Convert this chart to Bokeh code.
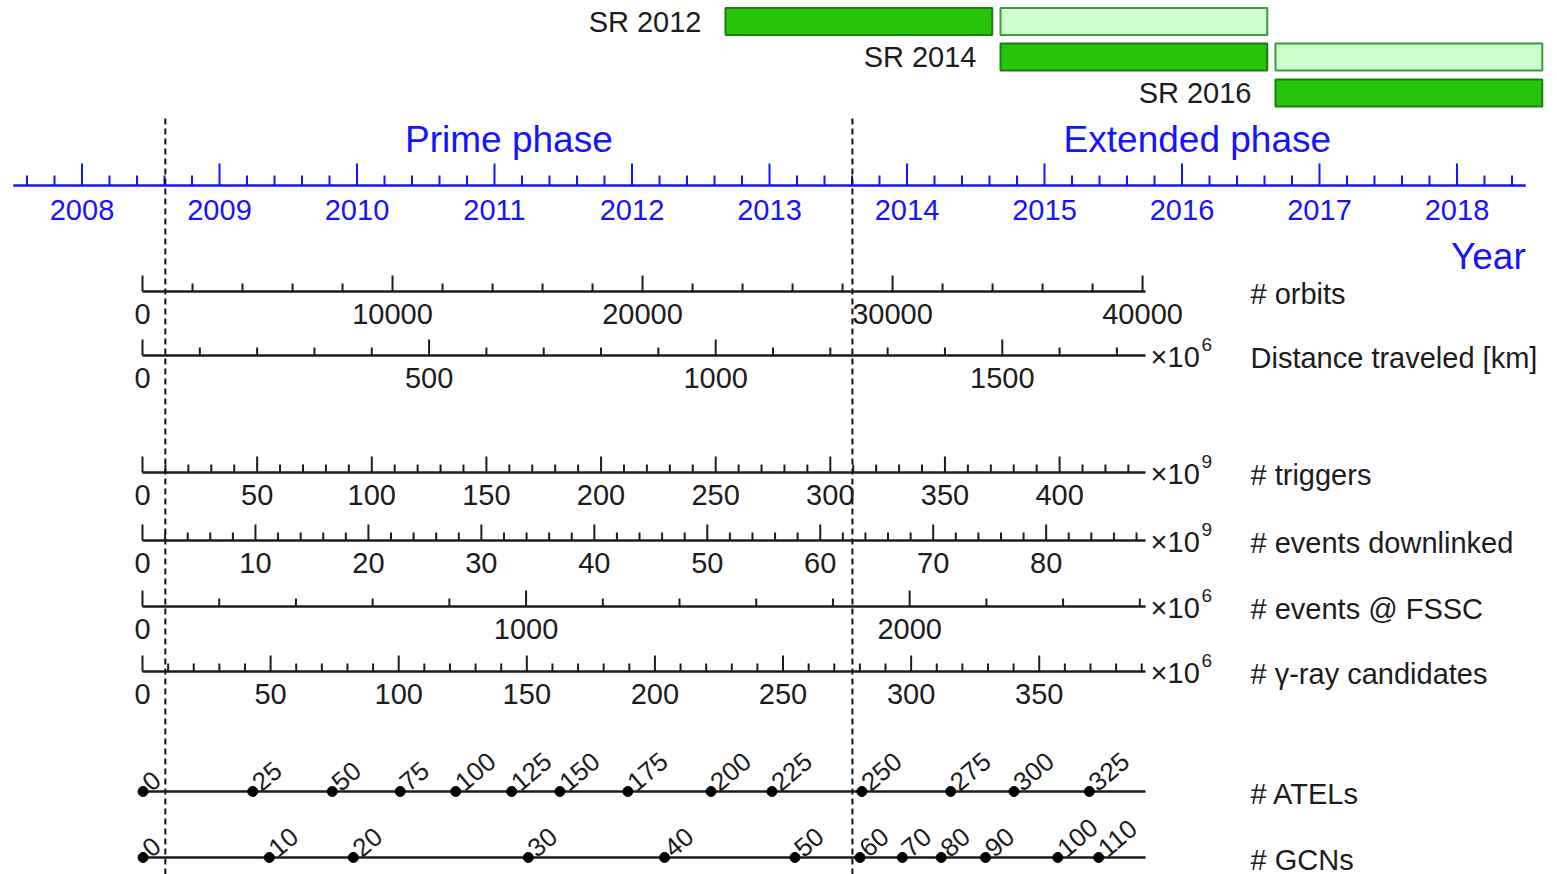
import numpy as np
from bokeh.plotting import figure
from bokeh.models import Range1d
from bokeh.embed import file_html
from bokeh.resources import INLINE
from bokeh.core.properties import value

# ---------------- data ----------------
years = [2008, 2009, 2010, 2011, 2012, 2013, 2014, 2015, 2016, 2017, 2018]
year_axis_range = [2007.5, 2018.5]
year_minor_step = 0.2

launch_date = 2008.44
science_start = 2008.606
extended_start = 2013.603
data_end = 2015.735

phase_names = ["Prime phase", "Extended phase"]

sr_labels = ["SR 2012", "SR 2014", "SR 2016"]
sr_start = [2012.68, 2014.68, 2016.68]
sr_end = [2014.62, 2016.62, 2018.62]
sr_ext_start = [2014.68, 2016.68]
sr_ext_end = [2016.62, 2018.62]

metric_names = ["# orbits", "Distance traveled [km]", "# triggers",
                "# events downlinked", "# events @ FSSC", "# \u03b3-ray candidates"]
metric_end_values = [40120, 1750, 437.5, 88.8, 2615, 391.5]
metric_major = [
    [0, 10000, 20000, 30000, 40000],
    [0, 500, 1000, 1500],
    [0, 50, 100, 150, 200, 250, 300, 350, 400],
    [0, 10, 20, 30, 40, 50, 60, 70, 80],
    [0, 1000, 2000],
    [0, 50, 100, 150, 200, 250, 300, 350],
]
metric_minor_step = [2000, 100, 10, 2, 200, 10]
metric_exponent = [None, "6", "9", "9", "6", "6"]

atel_counts = [0, 25, 50, 75, 100, 125, 150, 175, 200, 225, 250, 275, 300, 325]
atel_dates = [2008.444, 2009.242, 2009.820, 2010.314, 2010.718, 2011.125, 2011.476,
              2011.970, 2012.575, 2013.018, 2013.672, 2014.318, 2014.778, 2015.326]
gcn_counts = [0, 10, 20, 30, 40, 50, 60, 70, 80, 90, 100, 110]
gcn_dates = [2008.444, 2009.362, 2009.973, 2011.246, 2012.237, 2013.185, 2013.658,
             2013.966, 2014.249, 2014.571, 2015.097, 2015.394]

# ---------------- layout ----------------
W, H = 1557, 874
PX_PER_YEAR = 137.5
X2008 = 81.5


def yr(px):
    return 2008 + (px - X2008) / PX_PER_YEAR


BLUE = "#1414ff"
INK = "#1c1c1c"
FONT = value("Liberation Sans")

p = figure(width=W, height=H, x_range=Range1d(yr(0), yr(W)), y_range=Range1d(H, 0),
           output_backend="svg", toolbar_location=None, min_border=0,
           x_axis_type=None, y_axis_type=None)
p.xgrid.visible = False
p.ygrid.visible = False
p.outline_line_color = None
p.background_fill_color = "white"
p.border_fill_color = "white"

# ---- service review bars ----
row_y = [21, 56.5, 92.5]
bar_h = 27
p.quad(left=sr_start, right=sr_end,
       top=[y - bar_h / 2 for y in row_y], bottom=[y + bar_h / 2 for y in row_y],
       fill_color="#27c40b", line_color="#1c7d16", line_width=2)
p.quad(left=sr_ext_start, right=sr_ext_end,
       top=[y - bar_h / 2 for y in row_y[:2]], bottom=[y + bar_h / 2 for y in row_y[:2]],
       fill_color="#ccffcc", line_color="#3f9a3f", line_width=2)
p.text(x=sr_start, y=row_y, text=sr_labels, text_align="right", text_baseline="middle",
       x_offset=-24, text_font=FONT, text_font_size="29px", text_color=INK)

# ---- year axis ----
Y_AX = 185
p.segment(x0=[year_axis_range[0]], x1=[year_axis_range[1]], y0=[Y_AX], y1=[Y_AX],
          line_color=BLUE, line_width=2.5)
p.segment(x0=years, x1=years, y0=[Y_AX] * len(years), y1=[Y_AX - 22] * len(years),
          line_color=BLUE, line_width=2)
n_minor = int(round((year_axis_range[1] - year_axis_range[0]) / year_minor_step))
minor_years = [round(year_axis_range[0] + 0.1 + k * year_minor_step, 3) for k in range(n_minor)]
minor_years = [m for m in minor_years if abs(m - round(m)) > 1e-6]
p.segment(x0=minor_years, x1=minor_years, y0=[Y_AX] * len(minor_years),
          y1=[Y_AX - 10] * len(minor_years), line_color=BLUE, line_width=2)
p.text(x=years, y=[209] * len(years), text=[str(y) for y in years], text_align="center",
       text_baseline="middle", text_font=FONT, text_font_size="29px", text_color=BLUE)
p.text(x=[year_axis_range[1]], y=[256], text=["Year"], text_align="right",
       text_baseline="middle", text_font=FONT, text_font_size="37px", text_color=BLUE)
phase_x = [(science_start + extended_start) / 2, (extended_start + sr_end[-1]) / 2]
p.text(x=phase_x, y=[139, 139], text=phase_names, text_align="center",
       text_baseline="middle", text_font=FONT, text_font_size="37px", text_color=BLUE)

# ---- phase separators ----
p.segment(x0=[science_start, extended_start], x1=[science_start, extended_start],
          y0=[118, 118], y1=[H, H], line_color="#111111", line_width=2, line_dash="6 4")

# ---- metric axes ----
metric_y = [291, 355, 472, 540, 606, 671]
NAME_X = yr(1250)
span = data_end - launch_date
for i, name in enumerate(metric_names):
    ly = metric_y[i]
    endv = metric_end_values[i]

    def tx(v, endv=endv):
        return launch_date + v / endv * span

    p.segment(x0=[launch_date], x1=[data_end], y0=[ly], y1=[ly], line_color=INK, line_width=2.5)
    majors = metric_major[i]
    mx = [tx(v) for v in majors]
    p.segment(x0=mx, x1=mx, y0=[ly] * len(mx), y1=[ly - 16] * len(mx), line_color=INK, line_width=2)
    step = metric_minor_step[i]
    mins = [k * step for k in range(int(endv // step) + 1)]
    mins = [v for v in mins if v not in majors]
    nx = [tx(v) for v in mins]
    p.segment(x0=nx, x1=nx, y0=[ly] * len(nx), y1=[ly - 8] * len(nx), line_color=INK, line_width=2)
    p.text(x=mx, y=[ly + 22] * len(mx), text=[str(v) for v in majors], text_align="center",
           text_baseline="middle", text_font=FONT, text_font_size="29px", text_color=INK)
    if metric_exponent[i]:
        p.text(x=[data_end], y=[ly + 1], text=["\u00d710"], text_align="left",
               text_baseline="alphabetic", x_offset=5, text_font=FONT,
               text_font_size="29px", text_color=INK)
        p.text(x=[data_end], y=[ly - 11], text=[metric_exponent[i]], text_align="left",
               text_baseline="alphabetic", x_offset=56, text_font=FONT,
               text_font_size="19px", text_color=INK)
    p.text(x=[NAME_X], y=[ly + 2], text=[name], text_align="left", text_baseline="middle",
           text_font=FONT, text_font_size="29px", text_color=INK)

# ---- ATELs and GCNs ----
for ly, counts, dates, name in [(791, atel_counts, atel_dates, "# ATELs"),
                                (857, gcn_counts, gcn_dates, "# GCNs")]:
    p.segment(x0=[launch_date], x1=[data_end], y0=[ly], y1=[ly], line_color=INK, line_width=2.5)
    p.scatter(x=dates, y=[ly] * len(dates), size=10, marker="circle",
              fill_color="black", line_color="black")
    p.text(x=dates, y=[ly - 6] * len(dates), text=[str(c) for c in counts], angle=0.7,
           text_align="left", text_baseline="alphabetic", x_offset=3, text_font=FONT,
           text_font_size="26px", text_color=INK)
    p.text(x=[NAME_X], y=[ly + 2], text=[name], text_align="left", text_baseline="middle",
           text_font=FONT, text_font_size="29px", text_color=INK)

open("out.html", "w").write(file_html(p, INLINE))
